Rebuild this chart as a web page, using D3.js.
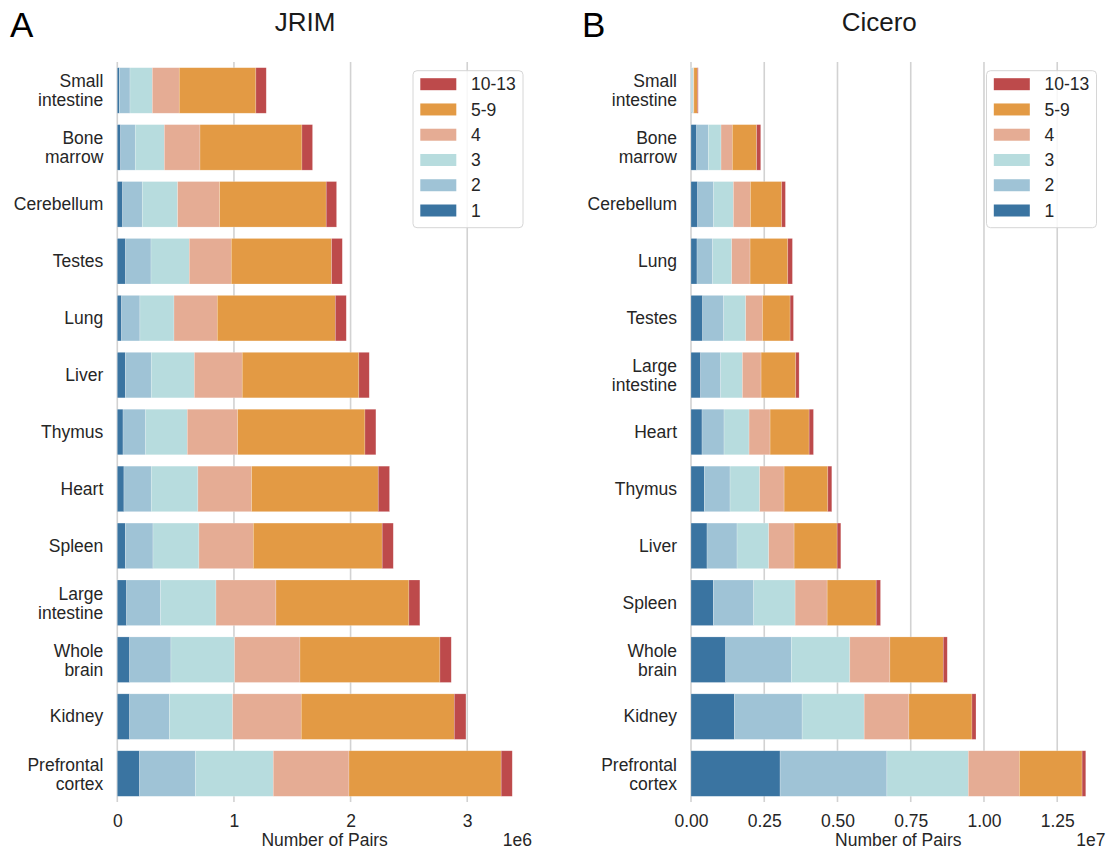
<!DOCTYPE html>
<html>
<head>
<meta charset="utf-8">
<script src="https://cdn.jsdelivr.net/npm/d3@7"></script>
<style>
  html, body { margin: 0; padding: 0; background: #ffffff; }
  svg { display: block; font-family: "Liberation Sans", Arial, sans-serif; }
</style>
</head>
<body>
<svg id="chart" width="1113" height="858"></svg>
<script>
// ---------------- data ----------------
const levels = ["1", "2", "3", "4", "5-9", "10-13"];
const levelColors = ["#3a74a1", "#9fc3d6", "#b7dcde", "#e5ac94", "#e39a44", "#bd4a4b"];

const jrimTissues = ["Small intestine", "Bone marrow", "Cerebellum", "Testes", "Lung", "Liver",
  "Thymus", "Heart", "Spleen", "Large intestine", "Whole brain", "Kidney", "Prefrontal cortex"];
const jrimL1   = [17000, 29000, 46000, 71000, 37000, 69000, 49000, 57000, 69000, 80000, 106000, 106000, 191000];
const jrimL2   = [92000, 125000, 168000, 218000, 157000, 222000, 194000, 234000, 237000, 291000, 354000, 340000, 480000];
const jrimL3   = [191000, 249000, 303000, 328000, 292000, 369000, 357000, 400000, 394000, 475000, 546000, 543000, 666000];
const jrimL4   = [231000, 306000, 360000, 360000, 371000, 411000, 431000, 460000, 466000, 514000, 560000, 588000, 649000];
const jrimL5_9 = [657000, 874000, 914000, 860000, 1012000, 1000000, 1092000, 1086000, 1105000, 1140000, 1200000, 1312000, 1305000];
const jrimL10_13 = [89000, 91000, 89000, 92000, 94000, 89000, 94000, 97000, 95000, 94000, 97000, 100000, 95000];

const ciceroTissues = ["Small intestine", "Bone marrow", "Cerebellum", "Lung", "Testes", "Large intestine",
  "Heart", "Thymus", "Liver", "Spleen", "Whole brain", "Kidney", "Prefrontal cortex"];
const ciceroL1   = [10000, 194000, 228000, 205000, 399000, 330000, 376000, 456000, 547000, 763000, 1185000, 1481000, 3041000];
const ciceroL2   = [25000, 398000, 546000, 535000, 717000, 684000, 752000, 877000, 1025000, 1378000, 2243000, 2312000, 3645000];
const ciceroL3   = [45000, 433000, 672000, 650000, 752000, 740000, 854000, 1013000, 1082000, 1413000, 1993000, 2118000, 2779000];
const ciceroL4   = [20000, 385000, 581000, 626000, 569000, 638000, 717000, 832000, 865000, 1093000, 1367000, 1526000, 1742000];
const ciceroL5_9 = [115000, 830000, 1071000, 1287000, 946000, 1184000, 1333000, 1492000, 1470000, 1674000, 1822000, 2153000, 2142000];
const ciceroL10_13 = [30000, 140000, 125000, 159000, 114000, 114000, 148000, 136000, 125000, 148000, 137000, 137000, 125000];

const jrimTicks = [0, 1e6, 2e6, 3e6];
const jrimTickLabels = ["0", "1", "2", "3"];
const ciceroTicks = [0, 0.25e7, 0.5e7, 0.75e7, 1.0e7, 1.25e7];
const ciceroTickLabels = ["0.00", "0.25", "0.50", "0.75", "1.00", "1.25"];

// ---------------- layout ----------------
const svg = d3.select("#chart");
const TXT = "#262626";
const FS = 17.5;

function panel(opts) {
  const { tissues, series, ticks, tickLabels, x0, x1, title, letter, letterX, titleShift, offsetText } = opts;
  const top = 62, bottom = 802;
  const rows = tissues.map((t, i) => {
    const vals = series.map(s => s[i]);
    return Object.assign({ tissue: t }, Object.fromEntries(levels.map((l, j) => [l, vals[j]])));
  });
  const stack = d3.stack().keys(levels)(rows);
  const maxTotal = d3.max(rows, r => d3.sum(levels, l => r[l]));

  const x = d3.scaleLinear().domain([0, maxTotal * 1.05]).range([x0, x1]);
  const y = d3.scaleBand().domain(tissues).range([top, bottom]).paddingInner(0.2).paddingOuter(0.1);

  const g = svg.append("g");

  // grid
  g.append("g").selectAll("line").data(ticks).join("line")
    .attr("x1", d => x(d)).attr("x2", d => x(d))
    .attr("y1", top).attr("y2", bottom)
    .attr("stroke", "#d2d2d2").attr("stroke-width", 1.6);

  // bars
  g.append("g").selectAll("g").data(stack).join("g")
    .attr("fill", (d, i) => levelColors[i])
    .selectAll("rect").data(d => d).join("rect")
    .attr("x", d => x(d[0]))
    .attr("width", d => Math.max(0, x(d[1]) - x(d[0])))
    .attr("y", d => y(d.data.tissue))
    .attr("height", y.bandwidth())
    .attr("stroke", "#ffffff").attr("stroke-opacity", 0.35).attr("stroke-width", 0.6);

  // x axis
  const xAxis = d3.axisBottom(x).tickValues(ticks)
    .tickFormat((d, i) => tickLabels[i]).tickSize(0).tickPadding(12.5);
  const xg = g.append("g").attr("transform", `translate(0,${bottom})`).call(xAxis);
  xg.select(".domain").remove();
  xg.selectAll("text").attr("font-size", FS).attr("fill", TXT)
    .attr("font-family", "'Liberation Sans', Arial, sans-serif");

  // y axis
  const yAxis = d3.axisLeft(y).tickSize(0).tickPadding(14);
  const yg = g.append("g").attr("transform", `translate(${x0},0)`).call(yAxis);
  yg.select(".domain").remove();
  yg.selectAll("text").each(function (d) {
    const t = d3.select(this);
    const words = d.split(" ");
    t.text(null).attr("dy", null).attr("font-size", FS).attr("fill", TXT)
      .attr("font-family", "'Liberation Sans', Arial, sans-serif");
    if (words.length === 1) {
      t.append("tspan").attr("x", -14).attr("y", 5.8).text(words[0]);
    } else {
      t.append("tspan").attr("x", -14).attr("y", -3).text(words[0]);
      t.append("tspan").attr("x", -14).attr("y", 16).text(words.slice(1).join(" "));
    }
  });

  // x label
  g.append("text").attr("x", (x0 + x1) / 2).attr("y", 846)
    .attr("text-anchor", "middle").attr("font-size", FS).attr("fill", TXT)
    .text("Number of Pairs");
  g.append("text").attr("x", x1).attr("y", 846)
    .attr("text-anchor", "end").attr("font-size", FS).attr("fill", TXT)
    .text(offsetText);

  // title
  g.append("text").attr("x", (x0 + x1) / 2 + titleShift).attr("y", 31)
    .attr("text-anchor", "middle").attr("font-size", 26).attr("fill", "#1a1a1a")
    .text(title);
  g.append("text").attr("x", letterX).attr("y", 37)
    .attr("font-size", 35).attr("fill", "#000").text(letter);

  // legend
  const lx = x1 - 119, ly = 70.7;
  const lg = g.append("g").attr("transform", `translate(${lx},${ly})`);
  lg.append("rect").attr("width", 110).attr("height", 157).attr("rx", 4)
    .attr("fill", "#ffffff").attr("fill-opacity", 0.85)
    .attr("stroke", "#d6d6d6").attr("stroke-width", 1);
  const order = levels.slice().reverse();
  const items = lg.selectAll("g.item").data(order).join("g").attr("class", "item")
    .attr("transform", (d, i) => `translate(0,${13.5 + i * 25.26})`);
  items.append("rect").attr("x", 7.3).attr("y", -6).attr("width", 36).attr("height", 12)
    .attr("fill", d => levelColors[levels.indexOf(d)]);
  items.append("text").attr("x", 58).attr("y", 6.2)
    .attr("font-size", FS).attr("fill", TXT).text(d => d);
}

panel({
  tissues: jrimTissues,
  series: [jrimL1, jrimL2, jrimL3, jrimL4, jrimL5_9, jrimL10_13],
  ticks: jrimTicks, tickLabels: jrimTickLabels,
  x0: 117.3, x1: 532, title: "JRIM", letter: "A", letterX: 10, titleShift: -19.5, offsetText: "1e6"
});
panel({
  tissues: ciceroTissues,
  series: [ciceroL1, ciceroL2, ciceroL3, ciceroL4, ciceroL5_9, ciceroL10_13],
  ticks: ciceroTicks, tickLabels: ciceroTickLabels,
  x0: 691, x1: 1105.5, title: "Cicero", letter: "B", letterX: 582, titleShift: -19, offsetText: "1e7"
});
</script>
</body>
</html>
